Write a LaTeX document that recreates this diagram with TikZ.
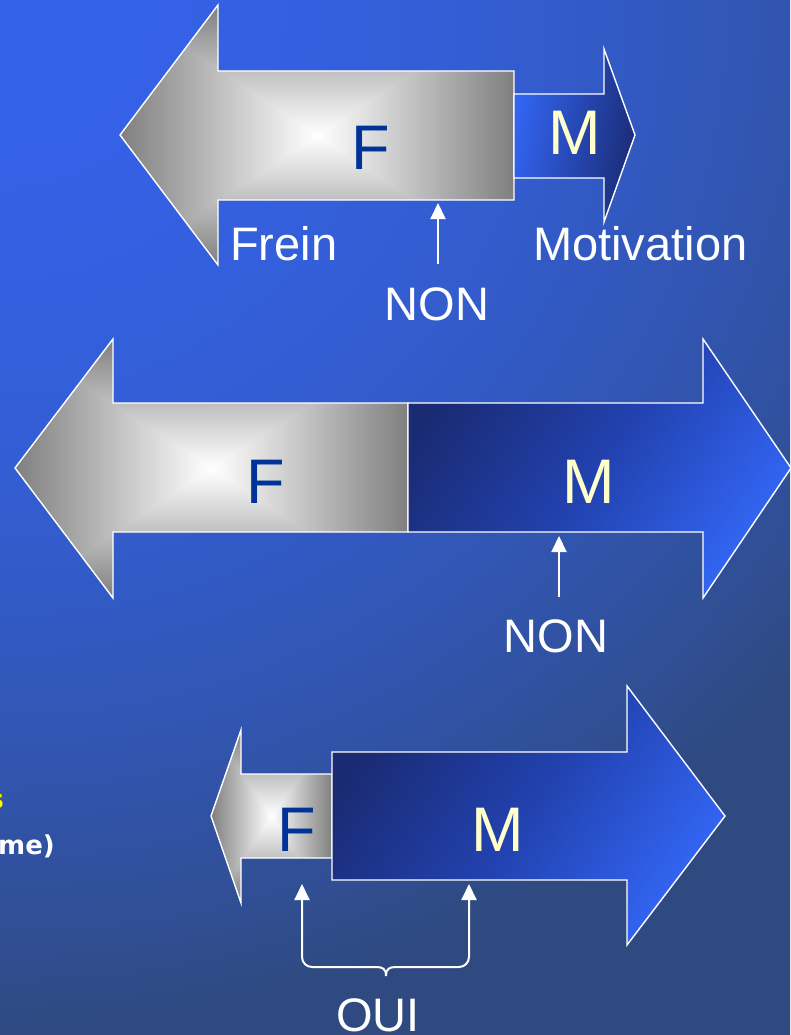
\documentclass[tikz,border=0pt]{standalone}
\usepackage{fontspec}
\setmainfont{Liberation Sans}
\newfontfamily\widesans{DejaVu Sans}
\usetikzlibrary{arrows.meta}

\definecolor{mDark}{HTML}{1A2B74}
\definecolor{mMid}{HTML}{2242B0}
\definecolor{mBright}{HTML}{3366F5}
\definecolor{letterF}{HTML}{003399}
\definecolor{letterM}{HTML}{FFFFCC}
\definecolor{hint}{HTML}{FFFF00}

% rectangular "from centre" steel gradient: white in the middle, grey at the box edges
\pgfdeclarefunctionalshading{steel}{\pgfpointorigin}{\pgfpoint{100bp}{100bp}}{}{
  50 sub abs 25 div
  exch 50 sub abs 25 div
  2 copy lt {exch} if pop
  dup 1 gt {pop 1} if
  0.5 mul 1 exch sub
  dup dup
}

% slide background: bright blue in the upper left corner, darkening towards the bottom
\pgfdeclarefunctionalshading{slide}{\pgfpointorigin}{\pgfpoint{100bp}{100bp}}{}{
  75 exch sub 50 div 1.0 mul dup mul
  exch 25 sub 50 div 0.75 mul dup mul
  add
  dup 1 gt {pop 1} if
  dup 0 lt {pop 0} if
  dup -5 mul 52 add 255 div
  exch dup -24 mul 98 add 255 div
  exch -104 mul 232 add 255 div
}

\begin{document}
\begin{tikzpicture}[x=1pt,y=-1pt,
  outline/.style={draw=white,line width=1.4pt,line join=miter},
  brake/.style={outline,shading=steel},
  drive/.style={outline,top color=mBright,bottom color=mDark,middle color=mMid,shading angle=235},
  bigletter/.style={inner sep=0pt,anchor=base,font=\fontsize{63}{63}\selectfont},
  fl/.style={bigletter,text=letterF},
  ml/.style={bigletter,text=letterM},
  lbl/.style={inner sep=0pt,text=white,font=\fontsize{47}{47}\selectfont},
  side/.style={inner sep=0pt,anchor=base east,font=\widesans\fontsize{26}{26}\selectfont\bfseries},
  pointer/.style={draw=white,line width=2pt,-{Triangle[width=15pt,length=16pt]}},
  brace/.style={draw=white,line width=2pt,-{Triangle[width=15pt,length=16pt]}}
]
% background
\shade[shading=slide] (0,0) rectangle (790,1035);
\useasboundingbox (0,0) rectangle (790,1035);

% ---------- first pair: large brake, small motivation ----------
\shadedraw[brake] (120,135) -- (218,5) -- (218,71) -- (514,71) -- (514,200)
  -- (218,200) -- (218,265) -- cycle;
\shadedraw[outline,left color=mBright,right color=mDark,shading angle=80]
  (514,94) -- (604,94) -- (604,49) -- (635,135) -- (604,222) -- (604,178) -- (514,178) -- cycle;
\node[fl] (f1) at (371,170) {F};
\node[ml] (m1) at (575,155) {M};
\node[lbl,anchor=base west] (frein) at (230,260) {Frein};
\node[lbl,anchor=base west] (motiv) at (533,260) {Motivation};
\node[lbl,anchor=base] (non1) at (437,320) {NON};
\coordinate (t1) at (438,203);
\coordinate (s1) at (438,264);
\draw[pointer] (s1) -- (t1);

% ---------- second pair: equal brake and motivation ----------
\shadedraw[brake] (15,468) -- (113,339) -- (113,403) -- (408,403) -- (408,532)
  -- (113,532) -- (113,598) -- cycle;
\shadedraw[drive] (408,403) -- (703,403) -- (703,339) -- (791,468) -- (703,598)
  -- (703,532) -- (408,532) -- cycle;
\node[fl] (f2) at (266,503) {F};
\node[ml] (m2) at (589,503) {M};
\node[lbl,anchor=base] (non2) at (556,652) {NON};
\coordinate (t2) at (559,536);
\coordinate (s2) at (559,597);
\draw[pointer] (s2) -- (t2);

% ---------- third pair: small brake, large motivation ----------
\shadedraw[brake] (211,816) -- (241,730) -- (241,774) -- (332,774) -- (332,858)
  -- (241,858) -- (241,903) -- cycle;
\shadedraw[drive] (332,752) -- (627,752) -- (627,686) -- (725,816) -- (627,945)
  -- (627,880) -- (332,880) -- cycle;
\node[fl] (f3) at (297,851) {F};
\node[ml] (m3) at (498,851) {M};
\node[lbl,anchor=base] (oui) at (378,1031) {OUI};
\coordinate (tL) at (302,884);
\coordinate (tR) at (469,884);
\coordinate (bmid) at (386,976);
\draw[brace] (bmid) .. controls (386,969) and (383,967) .. (376,967)
  [rounded corners=10pt] -- (302,967) -- (tL);
\draw[brace] (bmid) .. controls (386,969) and (389,967) .. (396,967)
  [rounded corners=10pt] -- (469,967) -- (tR);

% text running in from the left margin
\node[side,text=hint] (cutA) at (4,808) {s};
\node[side,text=white] (cutB) at (55,854) {me)};
\end{tikzpicture}
\end{document}
